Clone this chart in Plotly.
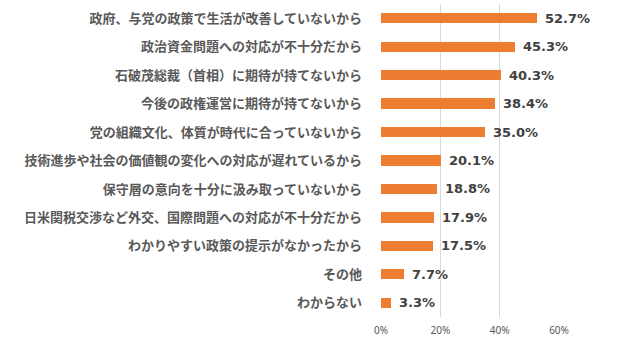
import plotly.graph_objects as go

# Reasons given (top to bottom) and share of respondents, in percent
reasons = [
    "政府、与党の政策で生活が改善していないから",
    "政治資金問題への対応が不十分だから",
    "石破茂総裁（首相）に期待が持てないから",
    "今後の政権運営に期待が持てないから",
    "党の組織文化、体質が時代に合っていないから",
    "技術進歩や社会の価値観の変化への対応が遅れているから",
    "保守層の意向を十分に汲み取っていないから",
    "日米関税交渉など外交、国際問題への対応が不十分だから",
    "わかりやすい政策の提示がなかったから",
    "その他",
    "わからない",
]
shares = [52.7, 45.3, 40.3, 38.4, 35.0, 20.1, 18.8, 17.9, 17.5, 7.7, 3.3]

tick_values = [0, 20, 40, 60]
tick_labels = ["0%", "20%", "40%", "60%"]

BAR_COLOR = "#ED7D31"
JP_FONT = "Noto Sans CJK JP"

fig = go.Figure(
    go.Bar(
        x=shares,
        y=reasons,
        orientation="h",
        marker=dict(color=BAR_COLOR, line=dict(width=0)),
        width=0.36,
        hoverinfo="skip",
    )
)

# Value labels placed just past the end of each bar
for reason, share in zip(reasons, shares):
    fig.add_annotation(
        x=share,
        y=reason,
        xref="x",
        yref="y",
        text=f"{share:.1f}%",
        showarrow=False,
        xanchor="left",
        yanchor="middle",
        xshift=6,
        font=dict(family="DejaVu Sans", size=13, color="#404040", weight="bold"),
    )

fig.update_layout(
    width=629,
    height=347,
    margin=dict(l=381, r=70, t=4, b=30, autoexpand=False),
    paper_bgcolor="white",
    plot_bgcolor="white",
    showlegend=False,
    bargap=0,
)

fig.update_xaxes(
    range=[0, 60],
    tickvals=tick_values,
    ticktext=tick_labels,
    showgrid=True,
    gridcolor="#D9D9D9",
    gridwidth=1,
    zeroline=False,
    showline=False,
    ticks="",
    ticklabelstandoff=6,
    tickfont=dict(family="Noto Sans", size=10, color="#595959"),
    fixedrange=True,
)

fig.update_yaxes(
    autorange="reversed",
    showgrid=False,
    zeroline=False,
    showline=False,
    ticks="",
    ticklabelstandoff=18,
    tickfont=dict(family=JP_FONT, size=13, color="#595959", weight="bold"),
    fixedrange=True,
)

fig.write_html("out.html", config={"displayModeBar": False})
